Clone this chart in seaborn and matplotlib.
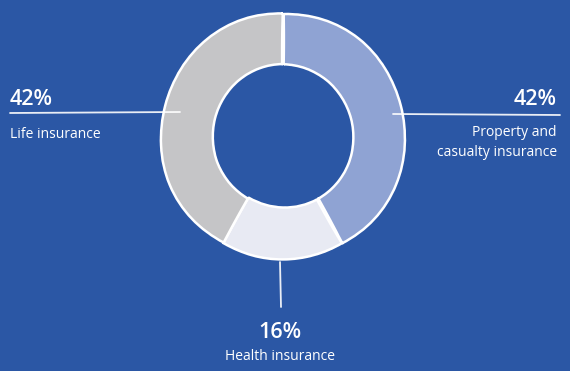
import matplotlib.pyplot as plt
import matplotlib.lines as mlines
import seaborn as sns

sns.set_style("white")
plt.rcParams['font.family'] = ['Open Sans', 'DejaVu Sans']

categorias = ['Property and\ncasualty insurance', 'Health insurance', 'Life insurance']
percentuais = [42, 16, 42]
cores = ['#8fa3d3', '#e8eaf3', '#c5c5c7']
FUNDO = '#2b57a5'

W, H = 570, 371


def fx(x):
    return x / W


def fy(y):
    return 1 - y / H


fig = plt.figure(figsize=(5.7, 3.71), dpi=100, facecolor=FUNDO)

cx, cy, r = 283, 136, 125
ax = fig.add_axes([fx(cx - r), fy(cy + r), 2 * r / W, 2 * r / H])
ax.set_facecolor(FUNDO)
wedges, _ = ax.pie(percentuais, colors=cores, startangle=90, counterclock=False,
                   radius=1, wedgeprops=dict(width=0.42, edgecolor='white', linewidth=1.8))
for w in wedges:
    w.set_sketch_params(scale=0.9, length=250, randomness=3)
ax.set_xlim(-1.02, 1.02)
ax.set_ylim(-1.02, 1.02)
ax.axis('off')

# linhas de chamada
linhas = [((10, 180), (113, 112)), ((393, 560), (114, 115)), ((280, 281), (262, 307))]
for xs, ys in linhas:
    ln = mlines.Line2D([fx(x) for x in xs], [fy(y) for y in ys], color='white',
                       lw=1.3, alpha=0.9, transform=fig.transFigure)
    fig.add_artist(ln)

cor_txt = 'white'
# Life
fig.text(fx(10), fy(105), f'{percentuais[2]}%', color=cor_txt, fontsize=15.5,
         fontweight='semibold', ha='left', va='baseline')
fig.text(fx(10), fy(138), categorias[2], color=cor_txt, fontsize=10, ha='left', va='baseline')
# Property
fig.text(fx(557), fy(105), f'{percentuais[0]}%', color=cor_txt, fontsize=15.5,
         fontweight='semibold', ha='right', va='baseline')
fig.text(fx(557), fy(156), categorias[0], color=cor_txt, fontsize=10, ha='right',
         va='baseline', multialignment='right', linespacing=1.45)
# Health
fig.text(fx(280), fy(338), f'{percentuais[1]}%', color=cor_txt, fontsize=15.5,
         fontweight='semibold', ha='center', va='baseline')
fig.text(fx(280), fy(360), categorias[1], color=cor_txt, fontsize=10, ha='center', va='baseline')

fig.savefig('out.png', dpi=100, facecolor=FUNDO)
